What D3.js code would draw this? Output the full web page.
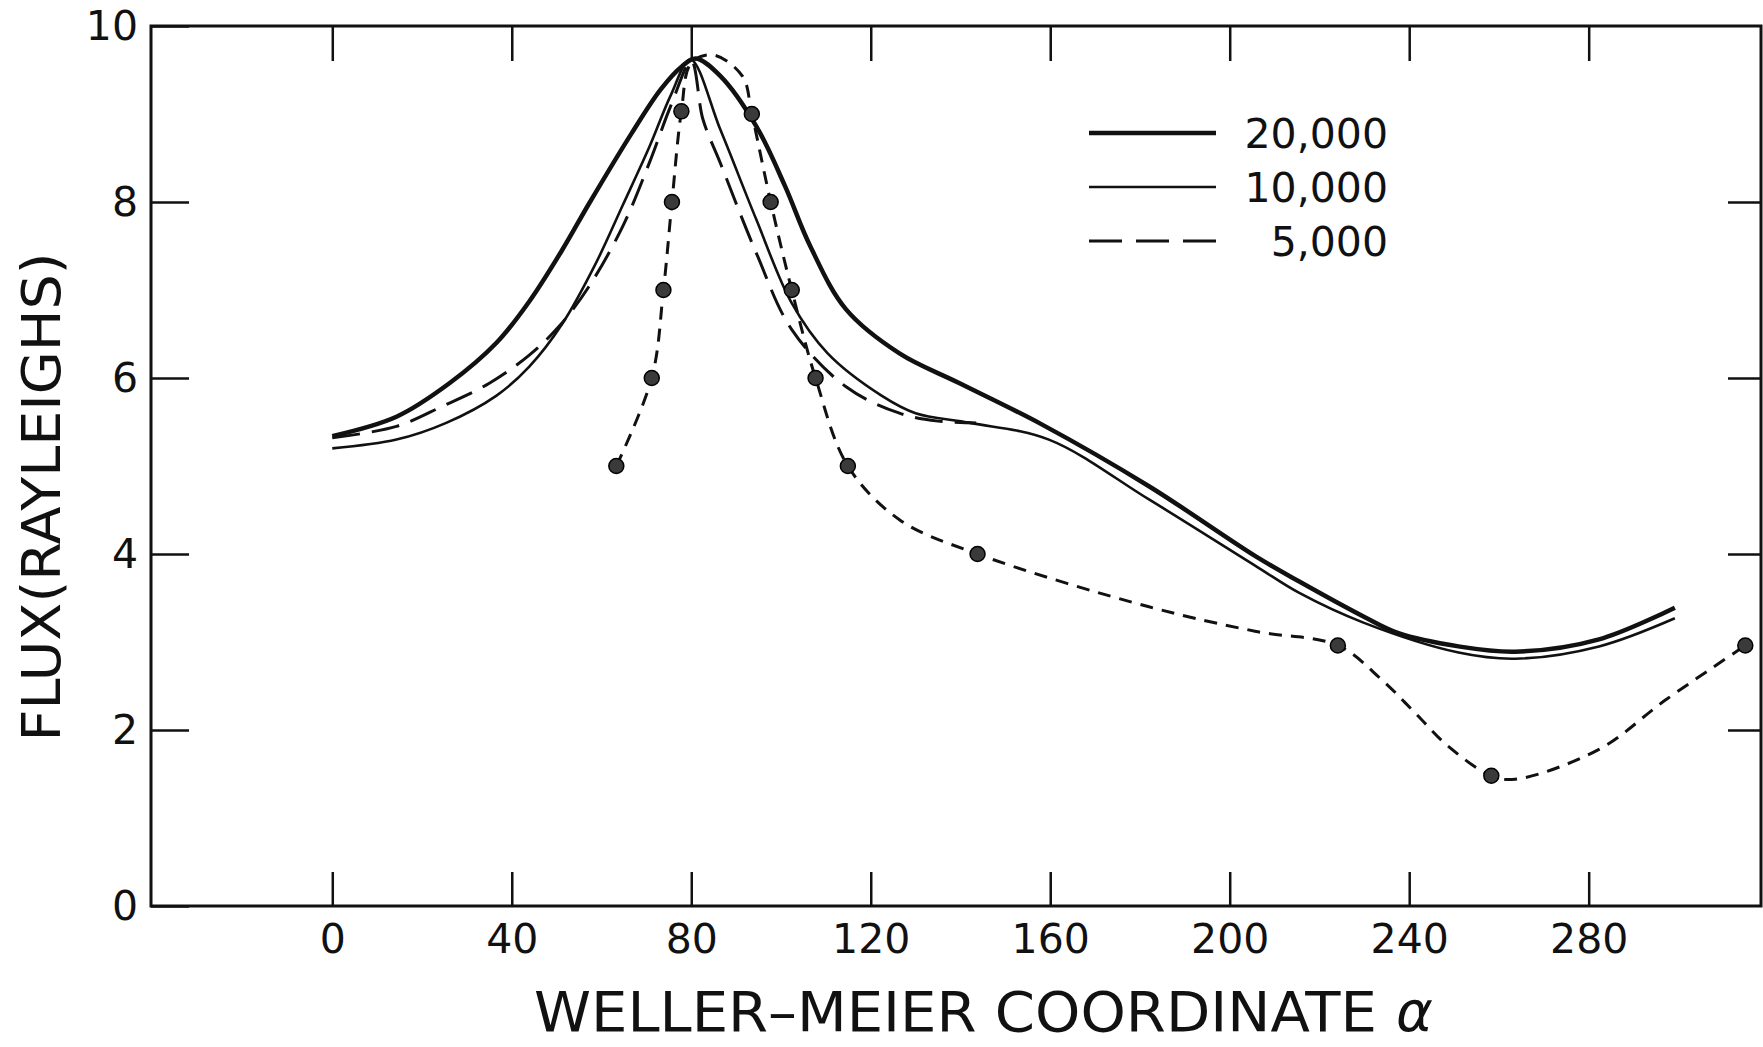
<!DOCTYPE html>
<html>
<head>
<meta charset="utf-8">
<title>Flux vs Weller-Meier coordinate</title>
<script src="https://d3js.org/d3.v7.min.js"></script>
<style>
  body { margin: 0; background: #fff; }
  svg { display: block; font-family: "DejaVu Sans", "Liberation Sans", sans-serif; }
  .tick text { font-size: 41px; fill: #111; }
  .tick line { stroke: #111; stroke-width: 2.5px; }
  .domain { display: none; }
  .frame { fill: none; stroke: #111; stroke-width: 3px; }
  .curve { fill: none; stroke: #111; }
</style>
</head>
<body>
<svg width="1763" height="1047"></svg>
<script>
// axis ticks
var xTicks = [0, 40, 80, 120, 160, 200, 240, 280];
var yTicks = [0, 2, 4, 6, 8, 10];
var yTicksRight = [2, 4, 6, 8];

// 20,000 (heavy solid)
var alpha20k = [0, 14.3, 26.1, 36.6, 43.9, 51.3, 57.2, 66.7, 73.2, 77.9, 81, 86.5, 94.5, 100.9, 106.5, 114.5, 126.4, 139.8, 158.2, 182, 205.9, 215.4, 229.8, 237.6, 251, 263.6, 282.3, 299.2];
var flux20k  = [5.34, 5.56, 5.94, 6.40, 6.87, 7.46, 7.98, 8.78, 9.28, 9.54, 9.63, 9.43, 8.86, 8.18, 7.50, 6.78, 6.28, 5.94, 5.47, 4.77, 3.97, 3.69, 3.29, 3.10, 2.95, 2.89, 3.03, 3.39];

// 10,000 (light solid)
var alpha10k = [0, 14.3, 25.4, 36.6, 43.9, 51.3, 58.7, 64.7, 70.7, 75.5, 79.8, 86.5, 94.5, 102.4, 110.4, 122.4, 130, 142.2, 159.7, 182, 205.9, 215.4, 229.8, 251, 263.6, 282.3, 299.2];
var flux10k  = [5.20, 5.30, 5.49, 5.80, 6.13, 6.62, 7.30, 7.96, 8.63, 9.22, 9.62, 8.82, 7.80, 6.85, 6.28, 5.80, 5.60, 5.49, 5.30, 4.62, 3.86, 3.56, 3.22, 2.88, 2.81, 2.95, 3.27];

// 5,000 (long dash)
var alpha5k = [0, 14.3, 24.6, 35, 43.9, 50.6, 57.2, 64.7, 70.7, 75.5, 80, 82.6, 86.5, 94.5, 102.4, 114.5, 126.4, 135, 143.5];
var flux5k  = [5.32, 5.45, 5.68, 5.94, 6.26, 6.59, 7.04, 7.72, 8.45, 9.10, 9.60, 8.94, 8.44, 7.42, 6.55, 5.90, 5.60, 5.51, 5.49];

// measured points (circles) and the dashed curve drawn through them
var pointAlpha = [63.3, 71.2, 73.8, 75.7, 77.8, 93.5, 97.7, 102.4, 107.7, 114.9, 143.8, 224.1, 258.3, 314.9];
var pointFlux  = [5.0, 6.0, 7.0, 8.0, 9.03, 9.0, 8.0, 7.0, 6.0, 5.0, 4.0, 2.96, 1.48, 2.96];
var fitAlpha = [63.3, 71.2, 73.8, 75.7, 77.8, 80, 84.9, 91.4, 93.5, 97.7, 102.4, 107.7, 114.9, 126.4, 143.8, 182, 205.9, 224.1, 233.9, 241.4, 248.8, 258.3, 263.6, 282.3, 297.1, 314.9];
var fitFlux  = [5.0, 6.0, 7.0, 8.0, 9.03, 9.58, 9.67, 9.43, 9.0, 8.0, 7.0, 6.0, 5.0, 4.39, 4.0, 3.40, 3.12, 2.96, 2.57, 2.19, 1.81, 1.48, 1.44, 1.78, 2.34, 2.96];

var legendLabels = ["20,000", "10,000", "5,000"];

var svg = d3.select("svg");

var x = d3.scaleLinear().domain([-40.4, 318.4]).range([151, 1761]);
var y = d3.scaleLinear().domain([0, 10]).range([906, 26]);

// frame
svg.append("rect").attr("class", "frame")
    .attr("x", x.range()[0]).attr("y", y(10))
    .attr("width", x.range()[1] - x.range()[0])
    .attr("height", y(0) - y(10));

// axes, ticks pointing inward
svg.append("g")
    .attr("transform", "translate(0," + y(0) + ")")
    .call(d3.axisBottom(x).tickValues(xTicks).tickSize(-34).tickPadding(18));

svg.append("g")
    .attr("transform", "translate(0," + y(10) + ")")
    .call(d3.axisTop(x).tickValues(xTicks).tickSize(-35).tickFormat(""));

svg.append("g")
    .attr("transform", "translate(" + x.range()[0] + ",0)")
    .call(d3.axisLeft(y).tickValues(yTicks).tickSize(-38).tickPadding(13));

svg.append("g")
    .attr("transform", "translate(" + x.range()[1] + ",0)")
    .call(d3.axisRight(y).tickValues(yTicksRight).tickSize(-33).tickFormat(""));

svg.selectAll(".tick text").attr("font-family", "DejaVu Sans");

// curves
function pairs(a, f) {
    return a.map(function(d, i) { return [d, f[i]]; });
}
var line = d3.line()
    .x(function(d) { return x(d[0]); })
    .y(function(d) { return y(d[1]); })
    .curve(d3.curveCatmullRom.alpha(0.5));

svg.append("path").attr("class", "curve")
    .attr("d", line(pairs(alpha20k, flux20k)))
    .attr("stroke-width", 4.5);

svg.append("path").attr("class", "curve")
    .attr("d", line(pairs(alpha10k, flux10k)))
    .attr("stroke-width", 2.6);

svg.append("path").attr("class", "curve")
    .attr("d", line(pairs(alpha5k, flux5k)))
    .attr("stroke-width", 3)
    .attr("stroke-dasharray", "28,12");

svg.append("path").attr("class", "curve")
    .attr("d", line(pairs(fitAlpha, fitFlux)))
    .attr("stroke-width", 3)
    .attr("stroke-dasharray", "13,9");

svg.selectAll(".pt")
    .data(pairs(pointAlpha, pointFlux))
    .enter().append("circle")
    .attr("class", "pt")
    .attr("cx", function(d) { return x(d[0]); })
    .attr("cy", function(d) { return y(d[1]); })
    .attr("r", 7.5)
    .attr("fill", "#3a3a3a")
    .attr("stroke", "#000")
    .attr("stroke-width", 1.5);

// legend
var legendWidths = [4.5, 2.6, 3];
var legendDash = [null, null, "33,14"];
var lg = svg.append("g").attr("transform", "translate(1089,133)");
legendLabels.forEach(function(lab, i) {
    var row = lg.append("g").attr("transform", "translate(0," + (i * 54) + ")");
    row.append("line")
        .attr("x1", 0).attr("x2", 127).attr("y1", 0).attr("y2", 0)
        .attr("stroke", "#111")
        .attr("stroke-width", legendWidths[i])
        .attr("stroke-dasharray", legendDash[i]);
    row.append("text")
        .attr("x", 299).attr("y", 0)
        .attr("dy", "0.36em")
        .attr("text-anchor", "end")
        .attr("font-size", 41)
        .attr("fill", "#111")
        .text(lab);
});

// axis titles
svg.append("text")
    .attr("transform", "translate(41,497) rotate(-90)")
    .attr("text-anchor", "middle")
    .attr("dy", "0.36em")
    .attr("font-size", 54)
    .attr("textLength", 489)
    .attr("lengthAdjust", "spacingAndGlyphs")
    .attr("fill", "#111")
    .text("FLUX(RAYLEIGHS)");

svg.append("text")
    .attr("x", 534).attr("y", 1031)
    .attr("font-size", 56)
    .attr("textLength", 843)
    .attr("lengthAdjust", "spacingAndGlyphs")
    .attr("fill", "#111")
    .text("WELLER\u2013MEIER COORDINATE");

svg.append("text")
    .attr("x", 1396).attr("y", 1031)
    .attr("font-size", 56)
    .attr("font-style", "italic")
    .attr("fill", "#111")
    .text("\u03b1");
</script>
</body>
</html>
